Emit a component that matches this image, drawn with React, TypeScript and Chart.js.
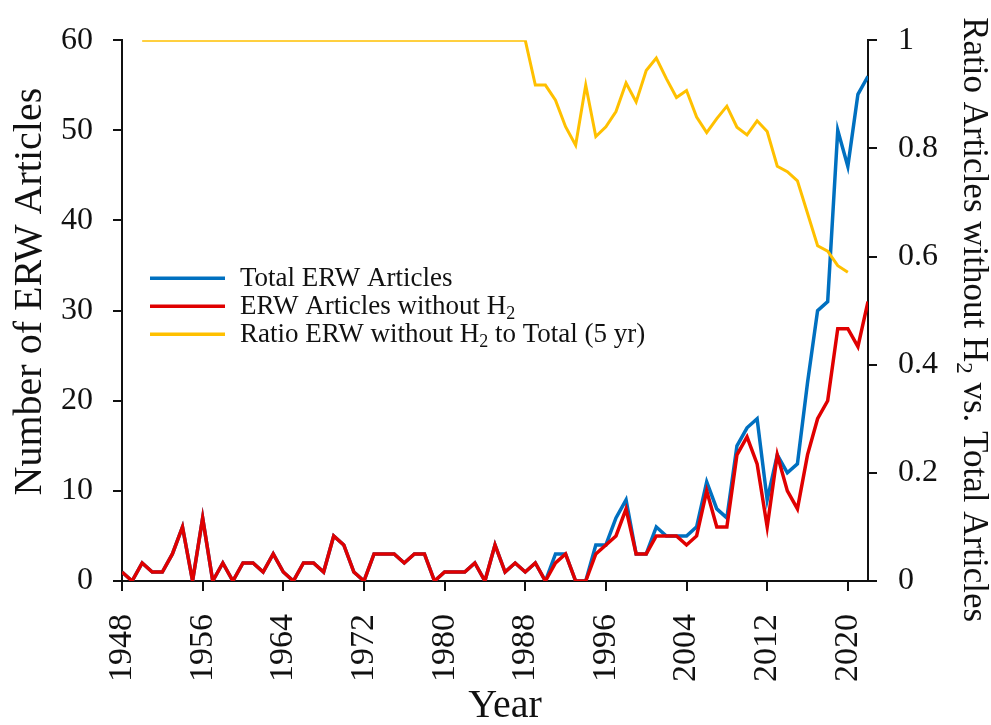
import React, { useEffect, useRef } from "react";
import { Chart, registerables } from "chart.js";

Chart.register(...registerables);

const years = [
  1948, 1949, 1950, 1951, 1952, 1953, 1954, 1955, 1956, 1957,
  1958, 1959, 1960, 1961, 1962, 1963, 1964, 1965, 1966, 1967,
  1968, 1969, 1970, 1971, 1972, 1973, 1974, 1975, 1976, 1977,
  1978, 1979, 1980, 1981, 1982, 1983, 1984, 1985, 1986, 1987,
  1988, 1989, 1990, 1991, 1992, 1993, 1994, 1995, 1996, 1997,
  1998, 1999, 2000, 2001, 2002, 2003, 2004, 2005, 2006, 2007,
  2008, 2009, 2010, 2011, 2012, 2013, 2014, 2015, 2016, 2017,
  2018, 2019, 2020, 2021, 2022,
];

const totalArticles = [
  1, 0, 2, 1, 1, 3, 6, 0, 7, 0,
  2, 0, 2, 2, 1, 3, 1, 0, 2, 2,
  1, 5, 4, 1, 0, 3, 3, 3, 2, 3,
  3, 0, 1, 1, 1, 2, 0, 4, 1, 2,
  1, 2, 0, 3, 3, 0, 0, 4, 4, 7,
  9, 3, 3, 6, 5, 5, 5, 6, 11, 8,
  7, 15, 17, 18, 9, 14, 12, 13, 22, 30,
  31, 50, 46, 54, 56,
];

const articlesWithoutH2 = [
  1, 0, 2, 1, 1, 3, 6, 0, 7, 0,
  2, 0, 2, 2, 1, 3, 1, 0, 2, 2,
  1, 5, 4, 1, 0, 3, 3, 3, 2, 3,
  3, 0, 1, 1, 1, 2, 0, 4, 1, 2,
  1, 2, 0, 2, 3, 0, 0, 3, 4, 5,
  8, 3, 3, 5, 5, 5, 4, 5, 10, 6,
  6, 14, 16, 13, 6, 14, 10, 8, 14, 18,
  20, 28, 28, 26, 31,
];

const ratioYears = years.slice(2, 73); // 1950 .. 2020
const ratioWithoutH2 = [
  1, 1, 1, 1, 1, 1, 1, 1, 1, 1,
  1, 1, 1, 1, 1, 1, 1, 1, 1, 1,
  1, 1, 1, 1, 1, 1, 1, 1, 1, 1,
  1, 1, 1, 1, 1, 1, 1, 1, 1,
  0.917, 0.917, 0.889, 0.84, 0.806, 0.917, 0.822, 0.84, 0.868, 0.921,
  0.886, 0.944, 0.967, 0.929, 0.894, 0.907, 0.858, 0.829, 0.855, 0.878,
  0.839, 0.825, 0.851, 0.831, 0.767, 0.757, 0.74, 0.68, 0.62, 0.61,
  0.583, 0.571,
];

const xTickYears = [1948, 1956, 1964, 1972, 1980, 1988, 1996, 2004, 2012, 2020];

const seriesLabels = [
  "Total ERW Articles",
  "ERW Articles without H₂",
  "Ratio ERW without H₂ to Total (5 yr)",
];
const seriesColors = ["#0070C0", "#E00000", "#FFC000"];

const xTitle = "Year";
const leftTitle = "Number of ERW Articles";
const rightTitle = "Ratio Articles without H₂ vs. Total Articles";

const FONT = '"Liberation Serif", "Times New Roman", serif';

function splitRich(text: string) {
  const parts: { t: string; sub: boolean }[] = [];
  let buf = "";
  for (const ch of text) {
    if (ch === "₂") {
      if (buf) parts.push({ t: buf, sub: false });
      buf = "";
      parts.push({ t: "2", sub: true });
    } else {
      buf += ch;
    }
  }
  if (buf) parts.push({ t: buf, sub: false });
  return parts;
}

function measureRich(ctx: CanvasRenderingContext2D, text: string, size: number) {
  let w = 0;
  for (const p of splitRich(text)) {
    ctx.font = `${p.sub ? Math.round(size * 0.65) : size}px ${FONT}`;
    w += ctx.measureText(p.t).width;
  }
  return w;
}

function drawRichText(ctx: CanvasRenderingContext2D, text: string, x: number, y: number, size: number) {
  let cx = x;
  for (const p of splitRich(text)) {
    const s = p.sub ? Math.round(size * 0.65) : size;
    ctx.font = `${s}px ${FONT}`;
    ctx.fillText(p.t, cx, p.sub ? y + size * 0.28 : y);
    cx += ctx.measureText(p.t).width;
  }
}

const insideLegend = {
  id: "insideLegend",
  afterDraw(chart: any) {
    const ctx: CanvasRenderingContext2D = chart.ctx;
    const area = chart.chartArea;
    const x0 = area.left + 28;
    const y0 = area.top + 238;
    const rowGap = 28;
    ctx.save();
    ctx.textBaseline = "middle";
    ctx.textAlign = "left";
    seriesLabels.forEach((label, i) => {
      const y = y0 + i * rowGap;
      ctx.strokeStyle = seriesColors[i];
      ctx.lineWidth = 3.5;
      ctx.beginPath();
      ctx.moveTo(x0, y);
      ctx.lineTo(x0 + 75, y);
      ctx.stroke();
      ctx.fillStyle = "#111";
      drawRichText(ctx, label, x0 + 90, y + 1, 27);
    });
    ctx.restore();
  },
};

const axisTitles = {
  id: "axisTitles",
  afterDraw(chart: any) {
    const ctx: CanvasRenderingContext2D = chart.ctx;
    const area = chart.chartArea;
    const W = chart.width;
    const H = chart.height;
    const midY = (area.top + area.bottom) / 2;
    ctx.save();
    ctx.fillStyle = "#111";
    ctx.textBaseline = "middle";
    ctx.textAlign = "left";

    // x title
    const xs = 40;
    const xw = measureRich(ctx, xTitle, xs);
    drawRichText(ctx, xTitle, (area.left + area.right) / 2 + 10 - xw / 2, H - 19, xs);

    // left title
    const ls = 40;
    ctx.save();
    ctx.translate(30, midY - 19);
    ctx.rotate(-Math.PI / 2);
    const lw = measureRich(ctx, leftTitle, ls);
    drawRichText(ctx, leftTitle, -lw / 2, 0, ls);
    ctx.restore();

    // right title
    const rs = 35;
    ctx.save();
    ctx.translate(W - 18, midY + 9);
    ctx.rotate(Math.PI / 2);
    const rw = measureRich(ctx, rightTitle, rs);
    drawRichText(ctx, rightTitle, -rw / 2, 0, rs);
    ctx.restore();

    ctx.restore();
  },
};

export default function App() {
  const canvasRef = useRef<HTMLCanvasElement | null>(null);

  useEffect(() => {
    if (!canvasRef.current) return;
    const totalPts = years.map((yr, i) => ({ x: yr, y: totalArticles[i] }));
    const noH2Pts = years.map((yr, i) => ({ x: yr, y: articlesWithoutH2[i] }));
    const ratioPts = ratioYears.map((yr, i) => ({ x: yr, y: ratioWithoutH2[i] }));

    const yTickFont = { family: FONT, size: 32 };
    const xTickFont = { family: FONT, size: 34 };

    const chart = new Chart(canvasRef.current, {
      type: "line",
      data: {
        datasets: [
          {
            label: seriesLabels[0],
            data: totalPts,
            borderColor: seriesColors[0],
            backgroundColor: seriesColors[0],
            borderWidth: 3.5,
            pointRadius: 0,
            tension: 0,
            yAxisID: "y",
            order: 2,
          },
          {
            label: seriesLabels[1],
            data: noH2Pts,
            borderColor: seriesColors[1],
            backgroundColor: seriesColors[1],
            borderWidth: 3.5,
            pointRadius: 0,
            tension: 0,
            yAxisID: "y",
            order: 1,
          },
          {
            label: seriesLabels[2],
            data: ratioPts,
            borderColor: seriesColors[2],
            backgroundColor: seriesColors[2],
            borderWidth: 3,
            pointRadius: 0,
            tension: 0,
            yAxisID: "y1",
            order: 0,
          },
        ],
      },
      options: {
        animation: false,
        responsive: true,
        maintainAspectRatio: false,
        layout: { padding: { top: 37, left: 0, right: 0, bottom: 0 } },
        plugins: {
          legend: { display: false },
          tooltip: { enabled: false },
        },
        scales: {
          x: {
            type: "linear",
            min: 1948,
            max: 2022,
            afterBuildTicks: (axis: any) => {
              axis.ticks = xTickYears.map((v) => ({ value: v }));
            },
            afterFit: (s: any) => {
              s.height = 144;
            },
            ticks: {
              minRotation: 90,
              maxRotation: 90,
              autoSkip: false,
              padding: 23,
              color: "#111",
              font: xTickFont,
              callback: (v: any) => String(v),
            },
            grid: {
              drawOnChartArea: false,
              drawTicks: true,
              tickLength: 10,
              color: "#111",
              lineWidth: 2,
            },
            border: { display: true, color: "#111", width: 2 },
            title: { display: false },
          },
          y: {
            type: "linear",
            position: "left",
            min: 0,
            max: 60,
            afterFit: (s: any) => {
              s.width = 122;
            },
            ticks: {
              stepSize: 10,
              padding: 20,
              color: "#111",
              font: yTickFont,
            },
            grid: {
              drawOnChartArea: false,
              drawTicks: true,
              tickLength: 9,
              color: "#111",
              lineWidth: 2,
            },
            border: { display: true, color: "#111", width: 2 },
            title: { display: false },
          },
          y1: {
            type: "linear",
            position: "right",
            min: 0,
            max: 1,
            afterFit: (s: any) => {
              s.width = 123;
            },
            ticks: {
              stepSize: 0.2,
              padding: 21,
              color: "#111",
              font: yTickFont,
              callback: (v: any) => String(Math.round(Number(v) * 10) / 10),
            },
            grid: {
              drawOnChartArea: false,
              drawTicks: true,
              tickLength: 9,
              color: "#111",
              lineWidth: 2,
            },
            border: { display: true, color: "#111", width: 2 },
            title: { display: false },
          },
        },
      },
      plugins: [insideLegend, axisTitles],
    } as any);

    return () => chart.destroy();
  }, []);

  return (
    <div
      style={{
        position: "fixed",
        left: 0,
        top: 0,
        width: 991,
        height: 725,
        background: "#fff",
      }}
    >
      <canvas ref={canvasRef} />
    </div>
  );
}
